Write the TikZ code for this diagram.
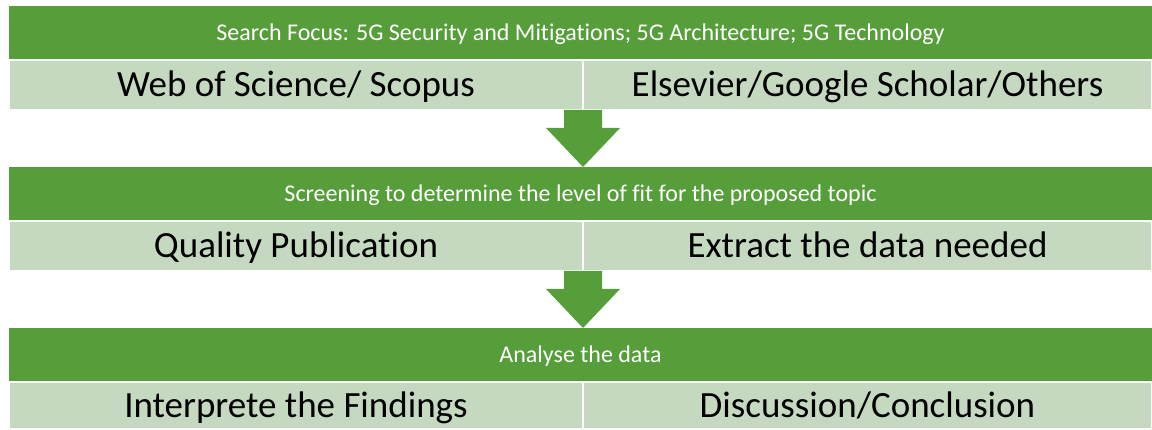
\documentclass[tikz,border=0pt]{standalone}
\usepackage{fontspec}
\setmainfont{Carlito}[Ligatures = NoCommon]
\usepackage{tikz}
\usetikzlibrary{positioning}
\usetikzlibrary{calc}
\definecolor{stepgreen}{HTML}{559E3A}
\definecolor{paleleaf}{HTML}{C5D9C0}

\begin{document}
\begin{tikzpicture}
			[
				x = 1pt, y = -1pt,
				head/.style = {rectangle, minimum width = 1143pt, minimum height = 54pt, inner sep = 0pt, outer sep = 0pt, text height = 15.5pt, text depth = 0pt, fill = stepgreen, text = white, font = \fontsize{24}{28}\selectfont},
				cell/.style = {rectangle, minimum height = 50pt, inner sep = 0pt, outer sep = 0pt, text height = 23.8pt, text depth = 0pt, fill = paleleaf, draw = white, line width = 1.2pt, font = \fontsize{37}{44}\selectfont},
				blockarrow/.style = {fill = stepgreen},
			]
			\useasboundingbox (0, 0) rectangle (1152, 430);
			% first stage
			\node (focus) [head] at (580.5, 33) {Search Focus: 5G Security and Mitigations; 5G Architecture; 5G Technology};
			\node (wos) [cell, minimum width = 574pt, anchor = north west] at (focus.south west) {Web of Science/ Scopus};
			\node (others) [cell, minimum width = 569pt, right = 0pt of wos] {Elsevier/Google Scholar/Others};
			% second stage
			\node (screen) [head] at (580.5, 194) {Screening to determine the level of fit for the proposed topic};
			\node (quality) [cell, minimum width = 574pt, anchor = north west] at (screen.south west) {Quality Publication};
			\node (extract) [cell, minimum width = 569pt, right = 0pt of quality] {Extract the data needed};
			% third stage
			\node (analyse) [head] at (580.5, 355) {Analyse the data};
			\node (interpret) [cell, minimum width = 574pt, minimum height = 47pt, anchor = north west] at (analyse.south west) {Interprete the Findings};
			\node (discuss) [cell, minimum width = 569pt, minimum height = 47pt, right = 0pt of interpret] {Discussion/Conclusion};
			% arrows between stages
			\foreach \from/\to in {wos/screen, quality/analyse}
				\fill [blockarrow] ($(\from.south east) + (-19, 0)$) -- ++(38, 0) -- ++(0, 18) -- ++(18, 0)
					-- (\from.south east |- \to.north) -- ++(-37, -39) -- ++(18, 0) -- cycle;
		\end{tikzpicture}
\end{document}
